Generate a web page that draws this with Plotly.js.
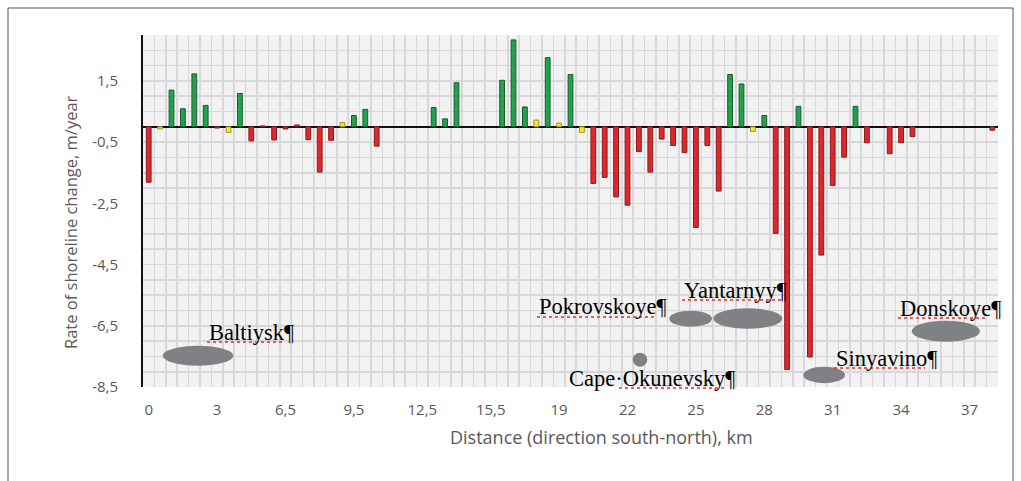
<!DOCTYPE html>
<html>
<head>
<meta charset="utf-8">
<script src="https://cdn.plot.ly/plotly-3.0.1.min.js"></script>
<style>html,body{margin:0;padding:0;background:#fff;}#chart{width:1021px;height:481px;}</style>
</head>
<body>
<div id="chart"></div>
<script>
// ---- data (one value per profile, null = no measurement) ----
const rates = [
  -1.81, -0.07, 1.20, 0.59, 1.73, 0.70, -0.04, -0.18, 1.09, -0.46,
   0.03, -0.43, -0.07, 0.06, -0.42, -1.48, -0.44, 0.14, 0.37, 0.57,
  -0.63, null, null, null, null, 0.63, 0.26, 1.44, null, null,
   null, 1.52, 2.84, 0.65, 0.22, 2.26, 0.12, 1.71, -0.18, -1.85,
  -1.65, -2.29, -2.56, -0.81, -1.48, -0.40, -0.61, -0.84, -3.29, -0.61,
  -2.10, 1.71, 1.40, -0.15, 0.37, -3.48, -7.93, 0.67, -7.52, -4.19,
  -1.92, -0.99, 0.67, -0.52, null, -0.88, -0.52, -0.32, null, null,
   null, null, null, null, -0.11
];
// A = accretion, E = erosion, S = stable
const trend = [
  "E","S","A","A","A","A","E","S","A","E",
  "E","E","E","E","E","E","E","S","A","A",
  "E","","","","","A","A","A","","",
  "","A","A","A","S","A","S","A","S","E",
  "E","E","E","E","E","E","E","E","E","E",
  "E","A","A","S","A","E","E","A","E","E",
  "E","E","A","E","","E","E","E","","",
  "","","","","E"
];
const xTickLabels = ["0","3","6,5","9,5","12,5","15,5","19","22","25","28","31","34","37"];
const yTickValues = [-8.5, -6.5, -4.5, -2.5, -0.5, 1.5];
const yTickLabels = ["-8,5","-6,5","-4,5","-2,5","-0,5","1,5"];
const places = ["Baltiysk¶","Pokrovskoye¶","Yantarnyy¶","Cape·Okunevsky¶","Sinyavino¶","Donskoye¶"];

// ---- build ----
const fillOf = {A:"#22a24c", E:"#e0262a", S:"#f4ee1e", "":"#000"};
const lineOf = {A:"#1c5a30", E:"#8a1c1c", S:"#9a9420", "":"#000"};
const xs = rates.map((v,i)=>i);
const tickIdx = xTickLabels.map((t,k)=>k*6);

const W=1021,H=481,L=143,R=23,T=35,B=94;
const pw=W-L-R, ph=H-T-B;
const px = x => (x-L)/pw;
const py = y => (H-B-y)/ph;

const ellipses = [
  [162.7,233.3,345.7,365.7],
  [669.3,712,310.7,326.7],
  [713.3,782.3,308.3,328.7],
  [632.7,647.3,352.7,366.7],
  [803.3,845,366.7,383.3],
  [911.7,980,320.7,341.7]
];
const labelPos = [[207,339],[537,313],[682,297],[567,385],[834,365],[898,315]];
const underlines = [[207,285,342],[537,655,317],[682,782,300],[619,725,388],[834,925,368],[898,988,318]];

const shapes = [];
shapes.push({type:"rect",xref:"paper",yref:"paper",x0:px(8),x1:px(1013),y0:py(8),y1:py(500),
  line:{color:"#555",width:1},fillcolor:"rgba(0,0,0,0)"});
ellipses.forEach(e=>shapes.push({type:"circle",xref:"paper",yref:"paper",
  x0:px(e[0]),x1:px(e[1]),y0:py(e[3]),y1:py(e[2]),fillcolor:"#808184",line:{width:0}}));
underlines.forEach(u=>shapes.push({type:"line",xref:"paper",yref:"paper",
  x0:px(u[0]),x1:px(u[1]),y0:py(u[2]),y1:py(u[2]),line:{color:"#e03030",width:1.5,dash:"dot"}}));

const annotations = places.map((t,k)=>({text:t,xref:"paper",yref:"paper",
  x:px(labelPos[k][0]),y:py(labelPos[k][1]-7),xanchor:"left",yanchor:"middle",showarrow:false,
  font:{family:"Liberation Serif, Times New Roman, serif",size:22.5,color:"#000"}}));
annotations.push({text:"Rate of shoreline change, m/year",xref:"paper",yref:"paper",
  x:px(70),y:py(222),textangle:-90,showarrow:false,xanchor:"center",yanchor:"middle",
  font:{family:"Open Sans, sans-serif",size:16.5,color:"#595959"}});
annotations.push({text:"Distance (direction south-north), km",xref:"paper",yref:"paper",
  x:px(601),y:py(437),showarrow:false,xanchor:"center",yanchor:"middle",
  font:{family:"Open Sans, sans-serif",size:18,color:"#595959"}});

const trace = {
  type:"bar", x:xs, y:rates, width:0.42,
  marker:{color:trend.map(t=>fillOf[t]), line:{color:trend.map(t=>lineOf[t]), width:1}},
  hoverinfo:"x+y"
};

const layout = {
  width:W, height:H,
  margin:{l:L,r:R,t:T,b:B,pad:0},
  paper_bgcolor:"#ffffff", plot_bgcolor:"#f2f2f3",
  showlegend:false, bargap:0,
  xaxis:{range:[-0.5,74.5], tickmode:"array", tickvals:tickIdx, ticktext:xTickLabels,
    showgrid:false, zeroline:false, showline:false, ticks:"", ticklabelstandoff:12,
    tickfont:{family:"Open Sans, sans-serif",size:15,color:"#595959"},
    minor:{tick0:-0.5,dtick:1,showgrid:true,gridcolor:"#d8d8da",gridwidth:1.6,ticks:""}},
  yaxis:{range:[-8.5,3], tickmode:"array", tickvals:yTickValues, ticktext:yTickLabels,
    showgrid:true, gridcolor:"#d8d8da", gridwidth:1.6,
    zeroline:true, zerolinecolor:"#111", zerolinewidth:2,
    showline:true, linecolor:"#111", linewidth:2, ticks:"", ticklabelstandoff:20,
    tickfont:{family:"Open Sans, sans-serif",size:15,color:"#595959"},
    minor:{tick0:0,dtick:0.5,showgrid:true,gridcolor:"#d8d8da",gridwidth:1.6,ticks:""}},
  shapes:shapes, annotations:annotations
};

Plotly.newPlot("chart",[trace],layout,{displayModeBar:false,staticPlot:true});
</script>
</body>
</html>
